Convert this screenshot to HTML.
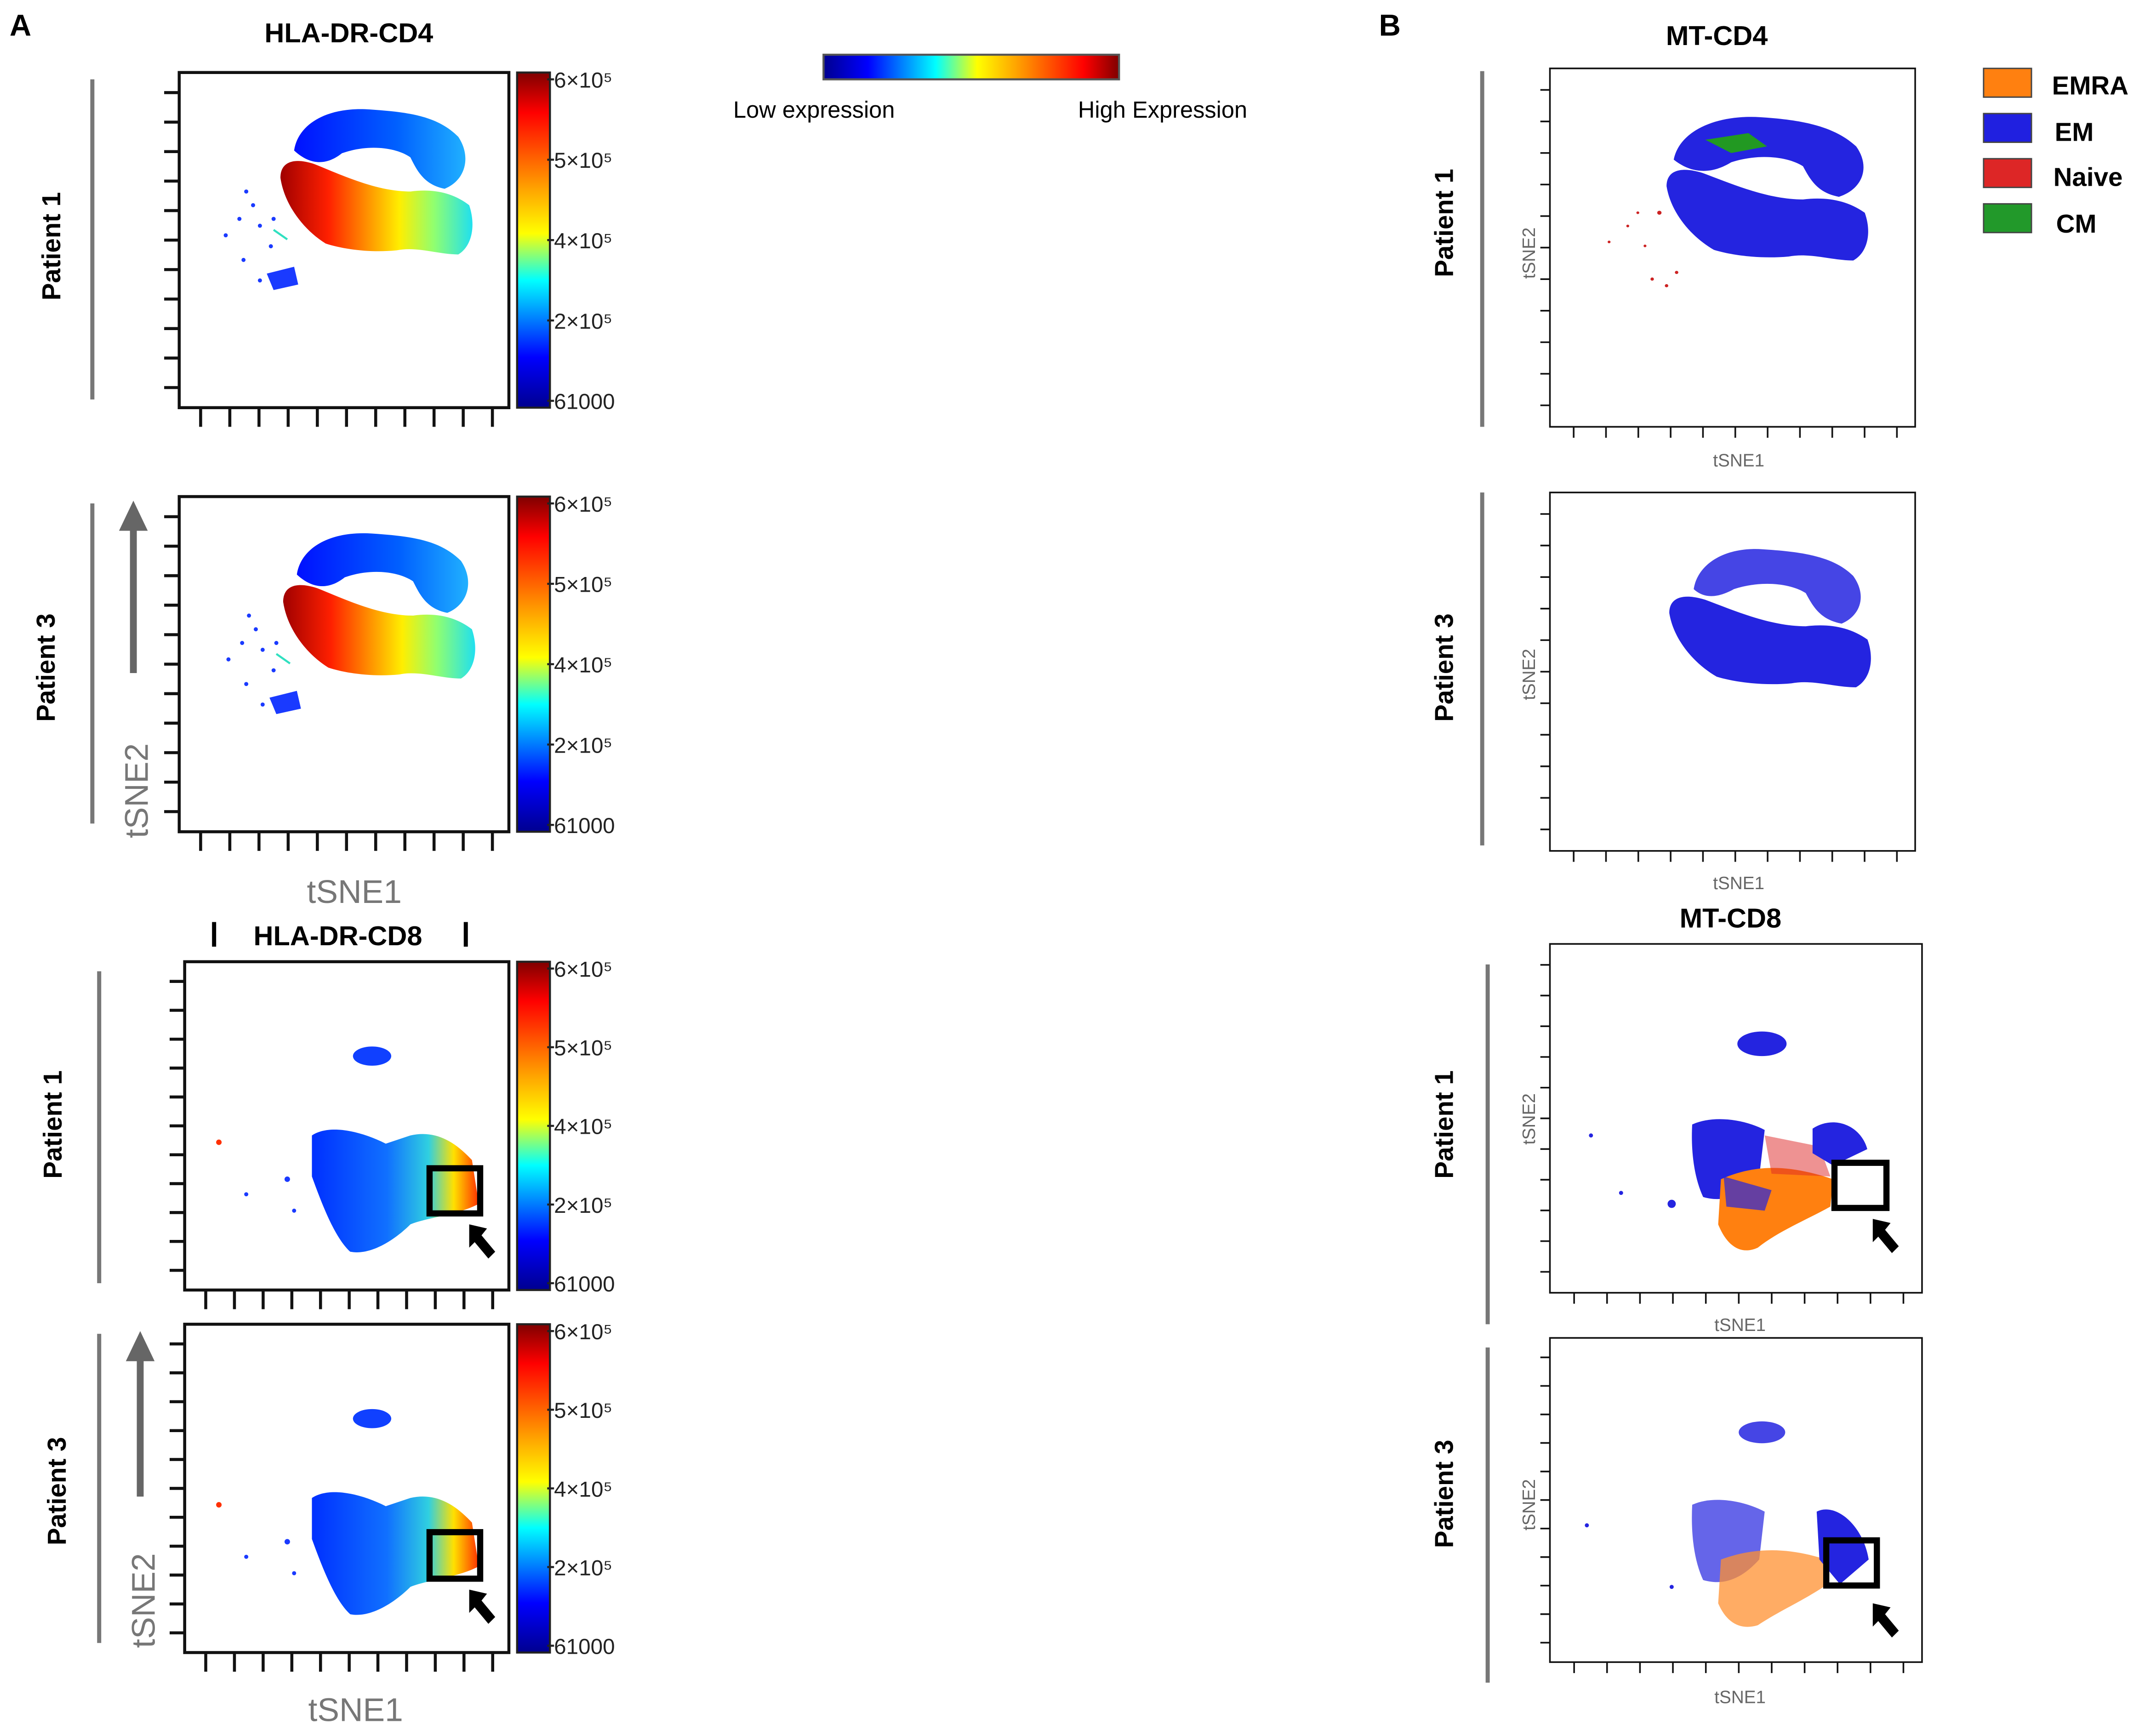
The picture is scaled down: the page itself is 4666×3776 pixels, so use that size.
<!DOCTYPE html>
<html><head><meta charset="utf-8">
<style>
html,body{margin:0;padding:0;background:#fff;}
svg{display:block;font-family:"Liberation Sans",Arial,sans-serif;}
.bold{font-weight:bold;}
</style></head>
<body>
<svg id="fig" width="4666" height="3776" viewBox="0 0 1568 1269" preserveAspectRatio="none" xmlns="http://www.w3.org/2000/svg">
<defs>
 <linearGradient id="jetV" x1="0" y1="0" x2="0" y2="1">
  <stop offset="0" stop-color="#7f0000"/><stop offset="0.12" stop-color="#ff0000"/>
  <stop offset="0.35" stop-color="#ffa500"/><stop offset="0.48" stop-color="#ffff00"/>
  <stop offset="0.62" stop-color="#00ffff"/><stop offset="0.85" stop-color="#0000ff"/>
  <stop offset="1" stop-color="#00008f"/></linearGradient>
 <linearGradient id="jetH" x1="0" y1="0" x2="1" y2="0">
  <stop offset="0" stop-color="#00008f"/><stop offset="0.15" stop-color="#0000ff"/>
  <stop offset="0.38" stop-color="#00ffff"/><stop offset="0.52" stop-color="#ffff00"/>
  <stop offset="0.65" stop-color="#ffa500"/><stop offset="0.88" stop-color="#ff0000"/>
  <stop offset="1" stop-color="#7f0000"/></linearGradient>
 <linearGradient id="bodyG" x1="0" y1="0" x2="1" y2="0">
  <stop offset="0" stop-color="#a00000"/><stop offset="0.25" stop-color="#ff2000"/>
  <stop offset="0.45" stop-color="#ff9000"/><stop offset="0.62" stop-color="#ffee00"/>
  <stop offset="0.8" stop-color="#90ff70"/><stop offset="1" stop-color="#20e0f0"/></linearGradient>
 <linearGradient id="ringG" x1="0" y1="0" x2="1" y2="0">
  <stop offset="0" stop-color="#0010ff"/><stop offset="0.6" stop-color="#0060ff"/>
  <stop offset="1" stop-color="#20b0ff"/></linearGradient>
 <linearGradient id="cd8G" x1="0" y1="0" x2="1" y2="0">
  <stop offset="0" stop-color="#0030ff"/><stop offset="0.45" stop-color="#1070ff"/>
  <stop offset="0.7" stop-color="#30d0e0"/><stop offset="0.85" stop-color="#ffe000"/>
  <stop offset="1" stop-color="#ff3000"/></linearGradient>
</defs>
<g id="ticks"></g>

<text x="7" y="26" font-size="22" class="bold">A</text>
<text x="1008" y="26" font-size="22" class="bold">B</text>
<text x="255" y="31" font-size="20" class="bold" text-anchor="middle">HLA-DR-CD4</text>
<text x="247" y="691" font-size="20" class="bold" text-anchor="middle">HLA-DR-CD8</text>
<rect x="155" y="674" width="3" height="18" fill="#000"/><rect x="339" y="674" width="3" height="18" fill="#000"/>
<text x="1255" y="33" font-size="20" class="bold" text-anchor="middle">MT-CD4</text>
<text x="1265" y="678" font-size="20" class="bold" text-anchor="middle">MT-CD8</text>

<rect x="602" y="40" width="216" height="18" fill="url(#jetH)" stroke="#555" stroke-width="1.5"/>
<text x="536" y="86" font-size="17">Low expression</text>
<text x="788" y="86" font-size="17">High Expression</text>

<g font-size="19" class="bold">
 <rect x="1450" y="50" width="35" height="21" fill="#ff8010" stroke="#444"/><text x="1500" y="69">EMRA</text>
 <rect x="1450" y="83" width="35" height="21" fill="#2020e0" stroke="#444"/><text x="1502" y="103">EM</text>
 <rect x="1450" y="116" width="35" height="21" fill="#dd2626" stroke="#444"/><text x="1501" y="136">Naive</text>
 <rect x="1450" y="149" width="35" height="21" fill="#22992a" stroke="#444"/><text x="1503" y="170">CM</text>
</g>

<g fill="#777">
 <rect x="66" y="58" width="3" height="234"/><rect x="66" y="368" width="3" height="234"/>
 <rect x="71" y="710" width="3" height="228"/><rect x="71" y="975" width="3" height="226"/>
 <rect x="1082" y="52" width="3" height="260"/><rect x="1082" y="360" width="3" height="258"/>
 <rect x="1086" y="705" width="3" height="263"/><rect x="1086" y="985" width="3" height="245"/>
</g>
<g class="bold" font-size="19">
 <text transform="translate(44,180) rotate(-90)" text-anchor="middle">Patient 1</text>
 <text transform="translate(40,488) rotate(-90)" text-anchor="middle">Patient 3</text>
 <text transform="translate(45,822) rotate(-90)" text-anchor="middle">Patient 1</text>
 <text transform="translate(48,1090) rotate(-90)" text-anchor="middle">Patient 3</text>
 <text transform="translate(1062,163) rotate(-90)" text-anchor="middle">Patient 1</text>
 <text transform="translate(1062,488) rotate(-90)" text-anchor="middle">Patient 3</text>
 <text transform="translate(1062,822) rotate(-90)" text-anchor="middle">Patient 1</text>
 <text transform="translate(1062,1092) rotate(-90)" text-anchor="middle">Patient 3</text>
</g>
<g fill="#666">
 <rect x="95" y="385" width="5" height="107"/><polygon points="87,388 97.5,366 108,388"/>
 <rect x="100" y="992" width="5" height="102"/><polygon points="92,995 102.5,973 113,995"/>
</g>
<g fill="#777" font-size="24">
 <text transform="translate(108,578) rotate(-90)" text-anchor="middle">tSNE2</text>
 <text x="259" y="660" text-anchor="middle">tSNE1</text>
 <text transform="translate(113,1170) rotate(-90)" text-anchor="middle">tSNE2</text>
 <text x="260" y="1258" text-anchor="middle">tSNE1</text>
</g>
<g fill="#666" font-size="13">
 <text transform="translate(1122,185) rotate(-90)" text-anchor="middle">tSNE2</text>
 <text x="1271" y="341" text-anchor="middle">tSNE1</text>
 <text transform="translate(1122,493) rotate(-90)" text-anchor="middle">tSNE2</text>
 <text x="1271" y="650" text-anchor="middle">tSNE1</text>
 <text transform="translate(1122,818) rotate(-90)" text-anchor="middle">tSNE2</text>
 <text x="1272" y="973" text-anchor="middle">tSNE1</text>
 <text transform="translate(1122,1100) rotate(-90)" text-anchor="middle">tSNE2</text>
 <text x="1272" y="1245" text-anchor="middle">tSNE1</text>
</g>

<g id="cd4heat">
 <path fill="url(#ringG)" fill-rule="evenodd" d="M215,110 C218,90 240,78 270,80 C300,82 320,85 335,100 C345,115 340,132 325,138 C310,135 305,125 300,115 C290,108 270,105 250,112 C240,120 228,122 215,110 Z"/>
 <path fill="url(#bodyG)" d="M205,130 C205,118 215,115 230,120 C250,128 275,140 300,140 C315,138 330,140 343,150 C348,165 345,180 335,186 C320,186 305,180 290,183 C270,185 250,182 238,178 C222,168 208,150 205,130 Z"/>
 <g fill="#1a3aff"><circle cx="165" cy="172" r="1.5"/><circle cx="175" cy="160" r="1.5"/><circle cx="190" cy="165" r="1.5"/><circle cx="185" cy="150" r="1.5"/><circle cx="200" cy="160" r="1.5"/><circle cx="198" cy="180" r="1.5"/><circle cx="180" cy="140" r="1.5"/>
 <path d="M195,200 L215,195 L218,208 L200,212 Z"/><circle cx="190" cy="205" r="1.5"/><circle cx="178" cy="190" r="1.5"/></g>
 <path d="M200,168 L210,175" stroke="#30e0c0" stroke-width="1.5"/>
</g>
<use href="#cd4heat" transform="translate(2,310)"/>

<g transform="translate(1003,10) scale(1.05,0.97)">
 <path fill="#2424e0" fill-rule="evenodd" d="M210,110 C214,88 240,76 270,78 C300,80 322,85 337,100 C347,115 342,132 325,138 C310,135 305,125 300,115 C290,108 270,105 250,112 C238,120 224,122 210,110 Z"/>
 <path fill="#2424e0" d="M205,130 C205,118 215,115 230,120 C250,128 275,140 300,140 C315,138 330,140 343,150 C348,165 345,180 335,186 C320,186 305,180 290,183 C270,185 250,182 238,178 C222,168 208,150 205,130 Z"/>
 <path fill="#229922" d="M232,95 L262,90 L275,100 L250,105 Z"/>
 <g fill="#cc2222"><circle cx="165" cy="172" r="1"/><circle cx="178" cy="160" r="1"/><circle cx="190" cy="175" r="1"/><circle cx="195" cy="200" r="1.2"/><circle cx="205" cy="205" r="1.2"/><circle cx="212" cy="195" r="1.2"/><circle cx="185" cy="150" r="1"/><circle cx="200" cy="150" r="1.5"/></g>
</g>
<g transform="translate(1005,322) scale(1.05,0.97)">
 <path fill="#2424e0" fill-rule="evenodd" d="M222,112 C225,92 245,80 270,82 C300,84 320,88 333,102 C343,117 338,132 325,138 C310,135 305,125 300,115 C290,108 270,105 250,112 C240,118 230,120 222,112 Z" opacity="0.85"/>
 <path fill="#2424e0" d="M205,130 C205,118 215,115 230,120 C250,128 275,140 300,140 C315,138 330,140 343,150 C348,165 345,180 335,186 C320,186 305,180 290,183 C270,185 250,182 238,178 C222,168 208,150 205,130 Z"/>
</g>

<g id="cd8heat">
 <ellipse cx="272" cy="772" rx="14" ry="7" fill="#1040ff"/>
 <path fill="url(#cd8G)" d="M228,830 C240,822 262,826 282,836 L300,830 C318,826 332,834 345,848 L350,880 C335,888 312,890 300,895 C290,905 272,918 256,915 C245,905 236,882 228,860 Z"/>
 <g fill="#1a3aff"><circle cx="180" cy="873" r="1.5"/><circle cx="210" cy="862" r="2"/><circle cx="215" cy="885" r="1.5"/></g>
 <circle cx="160" cy="835" r="2" fill="#ff3000"/>
</g>
<use href="#cd8heat" transform="translate(0,265)"/>

<g>
 <ellipse cx="1288" cy="763" rx="18" ry="9" fill="#2424e0"/>
 <path fill="#2424e0" d="M1237,822 C1252,815 1275,818 1290,826 L1286,860 C1275,872 1262,880 1245,875 C1238,860 1236,840 1237,822 Z"/>
 <path fill="#ff8010" d="M1258,862 C1285,850 1310,852 1340,862 L1338,882 C1320,892 1300,900 1285,912 C1272,918 1262,910 1256,895 Z"/>
 <path fill="#2424e0" d="M1260,860 L1295,870 L1290,885 L1262,882 Z" opacity="0.7"/>
 <path fill="#dd2626" d="M1290,830 L1330,838 L1338,860 L1295,858 Z" opacity="0.5"/>
 <path fill="#2424e0" d="M1325,825 C1340,815 1360,822 1365,840 L1340,852 L1325,843 Z"/>
 <g fill="#2424e0"><circle cx="1163" cy="830" r="1.5"/><circle cx="1185" cy="872" r="1.5"/><circle cx="1222" cy="880" r="3"/></g>
</g>
<g>
 <ellipse cx="1288" cy="1047" rx="17" ry="8" fill="#2424e0" opacity="0.85"/>
 <path fill="#2424e0" d="M1237,1100 C1252,1093 1275,1097 1290,1105 L1286,1140 C1275,1152 1262,1160 1245,1155 C1238,1140 1236,1120 1237,1100 Z" opacity="0.7"/>
 <path fill="#ff9030" d="M1258,1140 C1285,1130 1310,1132 1335,1140 L1333,1160 C1318,1170 1300,1178 1285,1188 C1272,1192 1262,1186 1256,1172 Z" opacity="0.75"/>
 <path fill="#2424e0" d="M1328,1105 C1342,1098 1362,1115 1366,1140 L1345,1158 L1330,1140 Z"/>
 <g fill="#2424e0"><circle cx="1160" cy="1115" r="1.5"/><circle cx="1222" cy="1160" r="1.5"/></g>
</g>

<g fill="none" stroke="#000" stroke-width="4.5">
 <rect x="314" y="854" width="37" height="33"/><rect x="314" y="1120" width="37" height="34"/>
 <rect x="1341" y="850" width="38" height="33"/><rect x="1335" y="1126" width="37" height="33"/>
</g>
<g fill="#000">
 <polygon points="343,895 356,898 352,903 362,915 357,920 347,908 343,912"/>
 <polygon points="343,1162 356,1165 352,1170 362,1182 357,1187 347,1175 343,1179"/>
 <polygon points="1369,891 1382,894 1378,899 1388,911 1383,916 1373,904 1369,908"/>
 <polygon points="1369,1172 1382,1175 1378,1180 1388,1192 1383,1197 1373,1185 1369,1189"/>
</g>
<g id="frames"></g>
</svg>
<script>
const panelNames = ['a1','a2','a3','a4','b1','b2','b3','b4'];
const colorbarLabels = ['6×10⁵','5×10⁵','4×10⁵','2×10⁵','61000'];
const colorbarValues = [600000, 500000, 400000, 200000, 61000];
const yTickCounts = [11, 11, 11, 11, 11, 11, 11, 11];
const xTickCounts = [11, 11, 11, 11, 11, 11, 11, 11];
const NS='http://www.w3.org/2000/svg';
const frames=document.getElementById('frames'), ticks=document.getElementById('ticks');
const boxes={a1:[131,53,241,245],a2:[131,363,241,245],a3:[135,703,237,240],a4:[135,968,237,240],
 b1:[1133,50,267,262],b2:[1133,360,267,262],b3:[1133,690,272,255],b4:[1133,978,272,237]};
function mk(tag,attrs,parent){const e=document.createElementNS(NS,tag);for(const k in attrs)e.setAttribute(k,attrs[k]);parent.appendChild(e);return e;}
panelNames.forEach((p,i)=>{
 const [x,y,w,h]=boxes[p]; const isA=p[0]==='a'; const sw=isA?2.2:1.2;
 const r=mk('rect',{x:x,y:y,width:w,height:h,fill:'none',stroke:'#111','stroke-width':sw},frames);
 
 
 const ny=yTickCounts[i], nx=xTickCounts[i];
 const tl=isA?11:7;
 for(let k=0;k<ny;k++){const ty=y+h*0.06+k*(h*0.88/(ny-1));
  mk('line',{x1:x-tl,x2:x,y1:ty,y2:ty,stroke:'#111','stroke-width':sw},ticks);}
 for(let k=0;k<nx;k++){const tx=x+w*0.065+k*(w*0.885/(nx-1));
  mk('line',{x1:tx,x2:tx,y1:y+h,y2:y+h+(isA?14:8),stroke:'#111','stroke-width':sw},ticks);}
 if(isA){
  const cb=mk('rect',{x:378,y:y,width:24,height:h,fill:'url(#jetV)',stroke:'#222','stroke-width':1.5},frames);
  
  
  const n=colorbarValues.length;
  colorbarLabels.forEach((lab,j)=>{
   const ty=y+5+(j/(n-1))*(h-10);
   mk('line',{x1:400,x2:405,y1:ty,y2:ty,stroke:'#222','stroke-width':1.5},frames);
   const t=mk('text',{x:405,y:ty+6,'font-size':16,fill:'#222'},frames);
   t.textContent=lab;
   
   
  });
 }
});
</script>
</body></html>
